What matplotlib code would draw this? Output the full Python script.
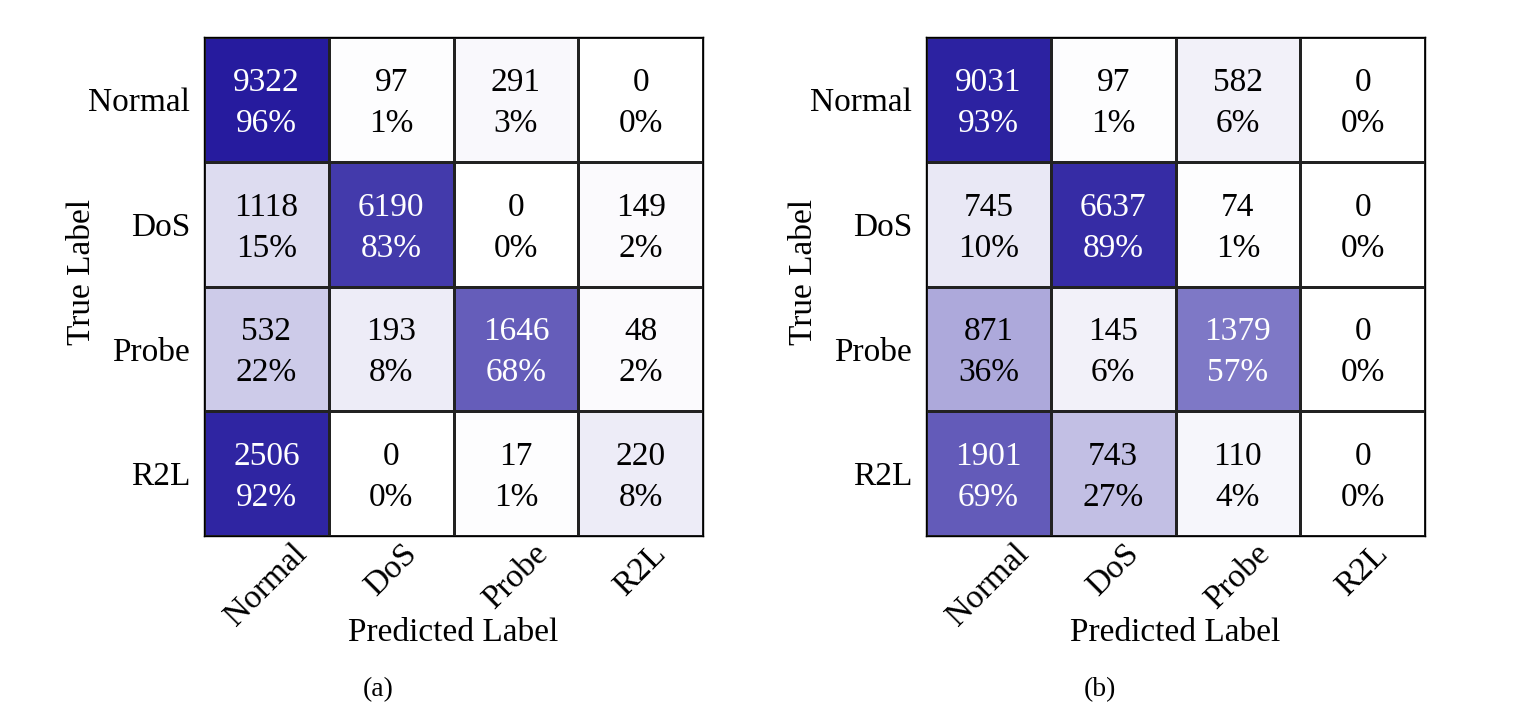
import numpy as np
import matplotlib
matplotlib.use("Agg")
import matplotlib.pyplot as plt
from matplotlib.colors import LinearSegmentedColormap

classes = ["Normal", "DoS", "Probe", "R2L"]

counts_a = [[9322, 97, 291, 0],
            [1118, 6190, 0, 149],
            [532, 193, 1646, 48],
            [2506, 0, 17, 220]]
pct_a = [[96, 1, 3, 0],
         [15, 83, 0, 2],
         [22, 8, 68, 2],
         [92, 0, 1, 8]]

counts_b = [[9031, 97, 582, 0],
            [745, 6637, 74, 0],
            [871, 145, 1379, 0],
            [1901, 743, 110, 0]]
pct_b = [[93, 1, 6, 0],
         [10, 89, 1, 0],
         [36, 6, 57, 0],
         [69, 27, 4, 0]]

captions = ["(a)", "(b)"]

plt.rcParams['font.family'] = ['Liberation Serif', 'DejaVu Serif']

cmap = LinearSegmentedColormap.from_list("wb", ["#ffffff", "#1d129a"])

fig = plt.figure(figsize=(15.4, 7.16), dpi=100)
W, H = 1540, 716
panels = [(counts_a, pct_a, 204, 378), (counts_b, pct_b, 926, 1100)]
for (cnt, pct, left_px, cap_x), cap in zip(panels, captions):
    ax = fig.add_axes([left_px / W, (H - 536) / H, 499 / W, 499 / H])
    P = np.array(pct, dtype=float)
    C = np.array(cnt)
    ax.pcolormesh(P, cmap=cmap, vmin=0, vmax=100, edgecolors='#222222', linewidth=0.9)
    ax.set_xlim(0, 4)
    ax.set_ylim(4, 0)
    for i in range(4):
        for j in range(4):
            col = 'white' if P[i, j] > 50 else 'black'
            ax.text(j + 0.5, i + 0.53, f"{C[i, j]}\n{int(P[i, j])}%", ha='center', va='center',
                    fontsize=24, color=col, linespacing=1.45)
    ax.set_xticks(np.arange(4) + 0.5)
    ax.set_yticks(np.arange(4) + 0.5)
    ax.set_xticklabels(classes, rotation=45, ha='center', fontsize=24)
    ax.set_yticklabels(classes, fontsize=24)
    ax.tick_params(axis='x', length=0, pad=2)
    ax.tick_params(axis='y', length=0, pad=10)
    for s in ax.spines.values():
        s.set_color('black')
        s.set_linewidth(1.0)
    ax.set_xlabel("Predicted Label", fontsize=24, labelpad=-11)
    ax.set_ylabel("True Label", fontsize=24)
    ax.yaxis.set_label_coords(-0.215, 0.529)
    fig.text(cap_x / W, 1 - 690 / H, cap, ha='center', va='center', fontsize=20)

fig.savefig("out.png", dpi=100)
